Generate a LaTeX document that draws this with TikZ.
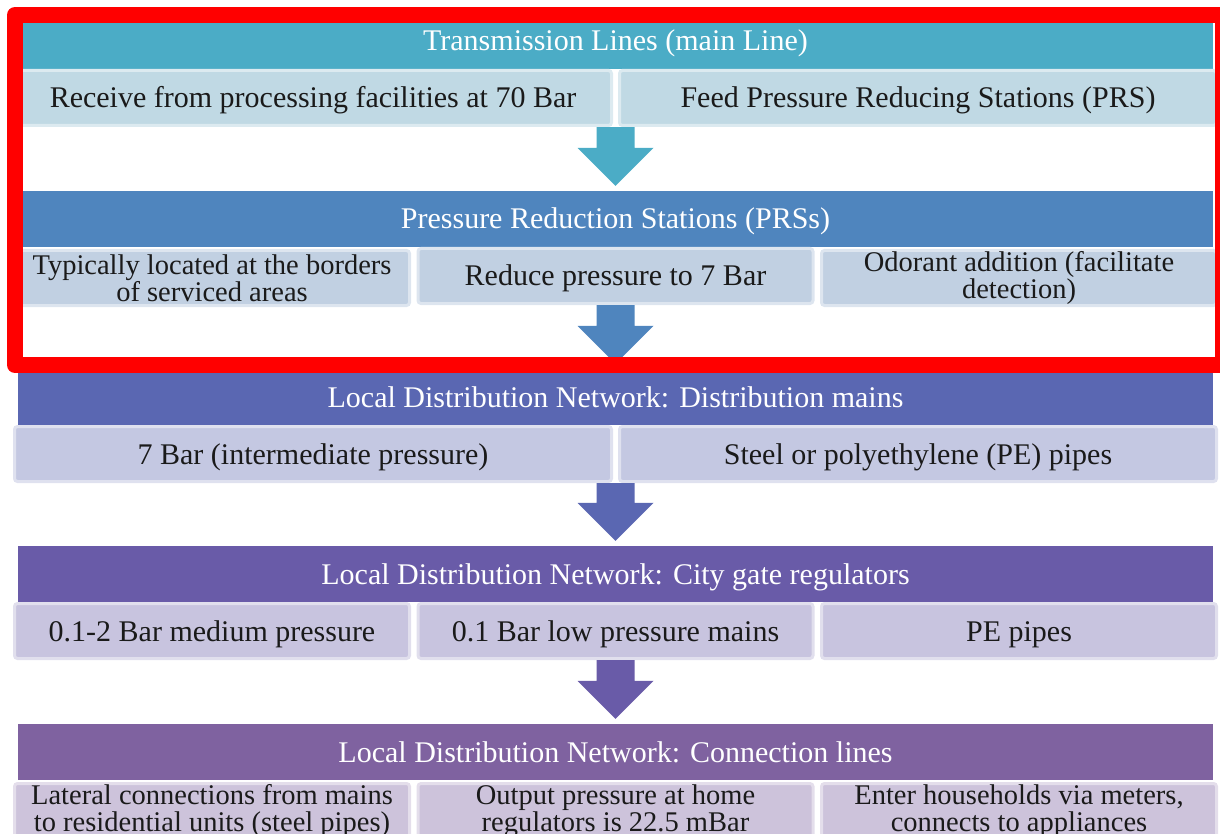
\documentclass[tikz,border=0pt]{standalone}
\usepackage{fontspec}
\setmainfont{Liberation Serif}
\usetikzlibrary{calc}
\definecolor{hA}{HTML}{4BACC6}
\definecolor{sA}{HTML}{C0D9E4}
\definecolor{hB}{HTML}{4F85BE}
\definecolor{sB}{HTML}{C1D0E2}
\definecolor{hC}{HTML}{5A67B2}
\definecolor{sC}{HTML}{C4C8E2}
\definecolor{hD}{HTML}{695BA8}
\definecolor{sD}{HTML}{C8C4DF}
\definecolor{hE}{HTML}{7F62A0}
\definecolor{sE}{HTML}{CDC3DB}
\definecolor{txt}{HTML}{1A1A1A}
\definecolor{redframe}{HTML}{FF0000}
\tikzset{
  txtfont/.style={font=\fontsize{30pt}{27pt}\selectfont},
  smallfont/.style={font=\fontsize{28.5pt}{27pt}\selectfont},
  hdr/.style={txtfont, text=white, minimum width=1195pt, minimum height=56pt,
    inner sep=0pt, text height=23pt, text depth=3pt},
  subbox/.style={text=txt, draw=#1!55!white, fill=#1, line width=3pt,
    rounded corners=3pt, minimum height=55pt, inner sep=0pt, align=center},
  oneline/.style={txtfont, text height=24pt, text depth=4pt},
  twoline/.style={smallfont, yshift=-2pt},
  twocol/.style={minimum width=597pt},
  threecol/.style={minimum width=395pt},
}
\newcommand\flowarrow[3]{%
  \fill[#3] let \p1=($(#1.south)+(0,58)$), \p2=($(#2.north)+(0,-5)$) in
    (\x1-19pt,\y1) -- (\x1+19pt,\y1) -- (\x1+19pt,\y2+38pt) -- (\x1+38pt,\y2+38pt)
    -- (\x1,\y2) -- (\x1-38pt,\y2+38pt) -- (\x1-19pt,\y2+38pt) -- cycle;}
\begin{document}
\begin{tikzpicture}[x=1pt,y=-1pt]
\useasboundingbox (0,0) rectangle (1220,834);
% block 1
\node[hdr, fill=hA] (h1) at (615.5,41) {Transmission Lines (main Line)};
\node[subbox=sA, twocol, oneline] (s11) at (313,98) {Receive from processing facilities at 70 Bar};
\node[subbox=sA, twocol, oneline] (s12) at (918,98) {Feed Pressure Reducing Stations (PRS)};
% block 2
\node[hdr, fill=hB] (h2) at (615.5,219) {Pressure Reduction Stations (PRSs)};
\node[subbox=sB, threecol, twoline] (s21) at (212,276) {Typically located at the borders\\of serviced areas};
\node[subbox=sB, threecol, oneline] (s22) at (615.5,276) {Reduce pressure to 7 Bar};
\node[subbox=sB, threecol, twoline] (s23) at (1019,276) {Odorant addition (facilitate\\detection)};
% block 3
\node[hdr, fill=hC] (h3) at (615.5,397) {Local Distribution Network: Distribution mains};
\node[subbox=sC, twocol, oneline] (s31) at (313,454) {7 Bar (intermediate pressure)};
\node[subbox=sC, twocol, oneline] (s32) at (918,454) {Steel or polyethylene (PE) pipes};
% block 4
\node[hdr, fill=hD] (h4) at (615.5,574) {Local Distribution Network: City gate regulators};
\node[subbox=sD, threecol, oneline] (s41) at (212,631) {0.1-2 Bar medium pressure};
\node[subbox=sD, threecol, oneline] (s42) at (615.5,631) {0.1 Bar low pressure mains};
\node[subbox=sD, threecol, oneline] (s43) at (1019,631) {PE pipes};
% block 5
\node[hdr, fill=hE] (h5) at (615.5,752) {Local Distribution Network: Connection lines};
\node[subbox=sE, threecol, twoline] (s51) at (212,809) {Lateral connections from mains\\to residential units (steel pipes)};
\node[subbox=sE, threecol, twoline] (s52) at (615.5,809) {Output pressure at home\\regulators is 22.5 mBar};
\node[subbox=sE, threecol, twoline] (s53) at (1019,809) {Enter households via meters,\\connects to appliances};
% arrows
\flowarrow{h1}{h2}{hA}
\flowarrow{h2}{h3}{hB}
\flowarrow{h3}{h4}{hC}
\flowarrow{h4}{h5}{hD}
% red highlight frame
\draw[redframe, line width=16pt, line join=round] (15,15) rectangle (1223,365);
\end{tikzpicture}
\end{document}
